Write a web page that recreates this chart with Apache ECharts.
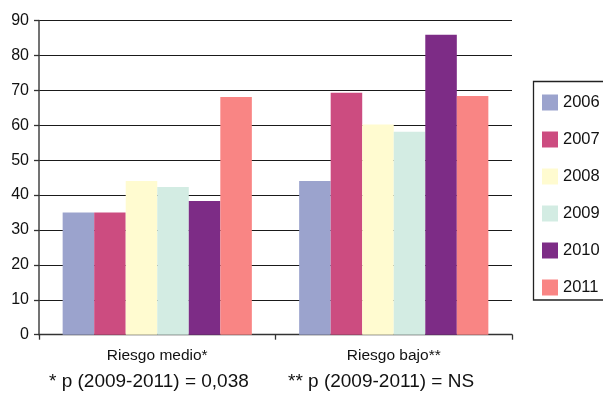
<!DOCTYPE html>
<html>
<head>
<meta charset="utf-8">
<script src="https://cdn.jsdelivr.net/npm/echarts@6/dist/echarts.min.js"></script>
<style>
  html, body { margin: 0; padding: 0; background: #fff; }
  #chart { width: 603px; height: 393px; }
</style>
</head>
<body>
<div id="chart"></div>
<script>
// Risk groups on the x axis
var categories = ['Riesgo medio*', 'Riesgo bajo**'];

// Percentage per year for each risk group
var years = ['2006', '2007', '2008', '2009', '2010', '2011'];
var values2006 = [35, 44];
var values2007 = [35, 69.3];
var values2008 = [44, 60.2];
var values2009 = [42.3, 58.1];
var values2010 = [38.3, 85.9];
var values2011 = [68.1, 68.4];

// Y axis range and step
var yMin = 0;
var yMax = 90;
var yStep = 10;

// Footnotes under each group
var footnotes = ['* p (2009-2011) = 0,038', '** p (2009-2011) = NS'];

var seriesValues = [values2006, values2007, values2008, values2009, values2010, values2011];
var colors = ['#9BA3CD', '#CC4C80', '#FFFBD0', '#D3ECE3', '#7D2C86', '#F98584'];

var fontFamily = '"Liberation Sans", Arial, Helvetica, sans-serif';
var chart = echarts.init(document.getElementById('chart'), null, { renderer: 'canvas' });

var series = years.map(function (y, i) {
  return {
    name: y,
    type: 'bar',
    data: seriesValues[i],
    barGap: '0%',
    barCategoryGap: '20%',
    itemStyle: { color: colors[i] },
    emphasis: { disabled: true }
  };
});

chart.setOption({
  animation: false,
  backgroundColor: '#ffffff',
  color: colors,
  textStyle: { fontFamily: fontFamily },
  grid: { left: 39, top: 20.5, right: 91, bottom: 58.3, containLabel: false },
  xAxis: {
    type: 'category',
    data: categories,
    boundaryGap: true,
    axisLine: { show: true, lineStyle: { color: '#333', width: 1.3 } },
    axisTick: { show: true, inside: false, length: 5, lineStyle: { color: '#333', width: 1.3 } },
    axisLabel: { fontSize: 15.5, color: '#111', margin: 13, fontFamily: fontFamily },
    splitLine: { show: false }
  },
  yAxis: {
    type: 'value',
    min: yMin,
    max: yMax,
    interval: yStep,
    axisLine: { show: true, lineStyle: { color: '#444', width: 1.5 } },
    axisTick: { show: true, length: 5, lineStyle: { color: '#333', width: 1.3 } },
    axisLabel: { fontSize: 16, color: '#111', margin: 10, fontFamily: fontFamily },
    splitLine: { show: true, lineStyle: { color: '#1a1a1a', width: 1.2 } }
  },
  legend: {
    orient: 'vertical',
    left: 542,
    top: 94,
    itemWidth: 16,
    itemHeight: 16,
    itemGap: 20,
    icon: 'rect',
    padding: 0,
    data: years,
    textStyle: { fontSize: 16.5, color: '#111', fontFamily: fontFamily, padding: [0, 0, 0, 0] },
    selectedMode: false
  },
  graphic: [
    {
      type: 'rect',
      shape: { x: 533.5, y: 81.5, width: 100, height: 218.5 },
      style: { fill: 'none', stroke: '#222', lineWidth: 1.3 },
      silent: true
    },
    {
      type: 'text',
      left: 49,
      top: 372,
      style: { text: footnotes[0], fontSize: 19, fill: '#111', fontFamily: fontFamily }
    },
    {
      type: 'text',
      left: 288,
      top: 372,
      style: { text: footnotes[1], fontSize: 19, fill: '#111', fontFamily: fontFamily }
    }
  ],
  series: series
});
</script>
</body>
</html>
